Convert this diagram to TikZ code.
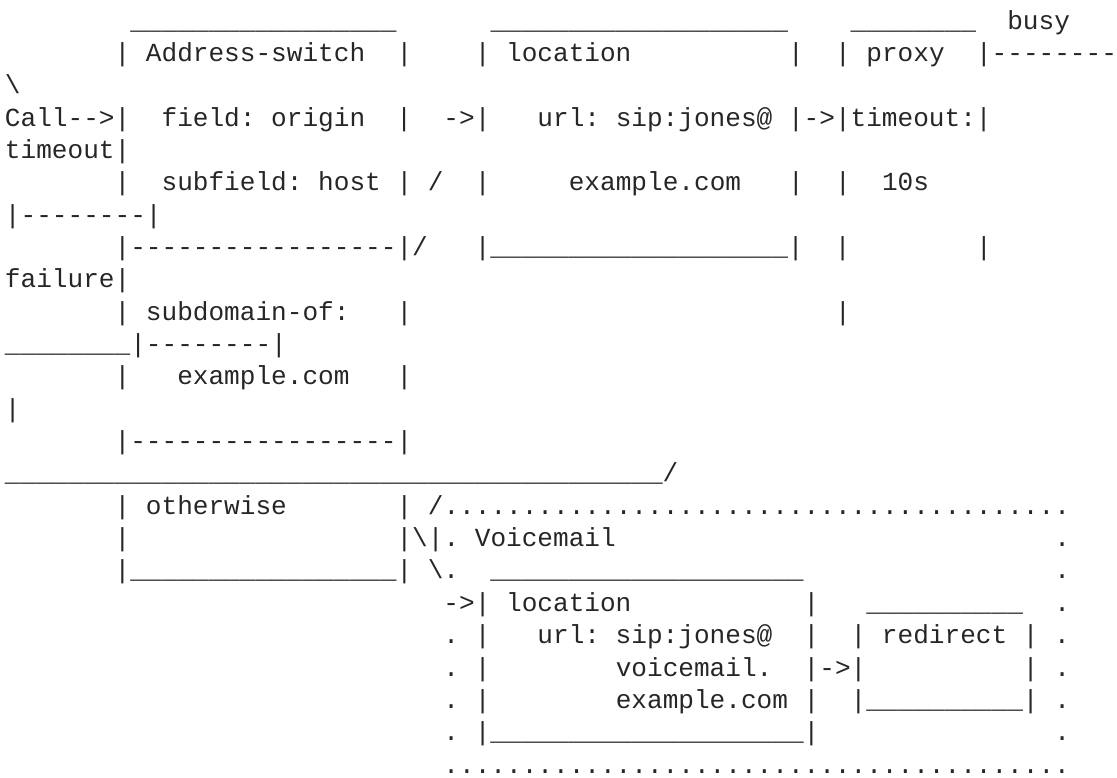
\documentclass[tikz,border=0pt]{standalone}
\usepackage{fontspec}
\setmonofont{Liberation Mono}
\usepackage{tikz}

\ExplSyntaxOn
\NewDocumentCommand\runof{mm}{\prg_replicate:nn{#1}{#2}}
\ExplSyntaxOff
\newcommand\blank[1]{\runof{#1}{~}}
\newcommand\unders[1]{\runof{#1}{\_}}
\newcommand\dashes[1]{\runof{#1}{-}}
\newcommand\dotrun[1]{\runof{#1}{.}}
\definecolor{ink}{HTML}{262626}

\begin{document}
\begin{tikzpicture}[x=15.66pt, y=-32.35pt,
    ln/.style={anchor=base west, inner sep=0pt, outer sep=0pt, xshift=5pt, yshift=3.35pt,
      text=ink, font=\fontsize{26.1}{32}\selectfont\ttfamily\frenchspacing}]
    \useasboundingbox (0pt,0pt) rectangle (1117pt,-777pt);

    % Top row: switch, location and proxy boxes
    \node[ln] (tops) at (8,1) {\unders{17}\blank{6}\unders{19}\blank{4}\unders{8}\blank{2}busy};
    \node[ln] (heads) at (7,2) {|~Address-switch\blank{2}|\blank{4}|~location\blank{10}|\blank{2}|~proxy\blank{2}|\dashes{8}};
    \node[ln] (wrapa) at (0,3) {\textbackslash};
    \node[ln] (callrow) at (0,4) {Call-->|\blank{2}field:~origin\blank{2}|\blank{2}->|\blank{3}url:~sip:jones@~|->|timeout:|};
    \node[ln] (wrapb) at (0,5) {timeout|};
    \node[ln] (hostrow) at (7,6) {|\blank{2}subfield:~host~|~/\blank{2}|\blank{5}example.com\blank{3}|\blank{2}|\blank{2}10s};
    \node[ln] (wrapc) at (0,7) {|\dashes{8}|};
    \node[ln] (sepa) at (7,8) {|\dashes{17}|/\blank{3}|\unders{19}|\blank{2}|\blank{8}|};
    \node[ln] (wrapd) at (0,9) {failure|};

    % Subdomain branch
    \node[ln] (subrow) at (7,10) {|~subdomain-of:\blank{3}|\blank{27}|};
    \node[ln] (wrape) at (0,11) {\unders{8}|\dashes{8}|};
    \node[ln] (domrow) at (7,12) {|\blank{3}example.com\blank{3}|};
    \node[ln] (wrapf) at (0,13) {|};
    \node[ln] (sepb) at (7,14) {|\dashes{17}|};
    \node[ln] (retline) at (0,15) {\unders{42}/};

    % Otherwise branch and voicemail block
    \node[ln] (othrow) at (7,16) {|~otherwise\blank{7}|~/\dotrun{40}};
    \node[ln] (vmrow) at (7,17) {|\blank{17}|\textbackslash|.~Voicemail\blank{28}.};
    \node[ln] (botrow) at (7,18) {|\unders{17}|~\textbackslash.\blank{2}\unders{20}\blank{16}.};
    \node[ln] (vlocrow) at (28,19) {->|~location\blank{11}|\blank{3}\unders{10}\blank{2}.};
    \node[ln] (vurlrow) at (28,20) {.~|\blank{3}url:~sip:jones@\blank{2}|\blank{2}|~redirect~|~.};
    \node[ln] (vmailrow) at (28,21) {.~|\blank{8}voicemail.\blank{2}|->|\blank{10}|~.};
    \node[ln] (vcomrow) at (28,22) {.~|\blank{8}example.com~|\blank{2}|\unders{10}|~.};
    \node[ln] (vendrow) at (28,23) {.~|\unders{20}|\blank{15}.};
    \node[ln] (dotline) at (28,24) {\dotrun{40}};
\end{tikzpicture}
\end{document}
